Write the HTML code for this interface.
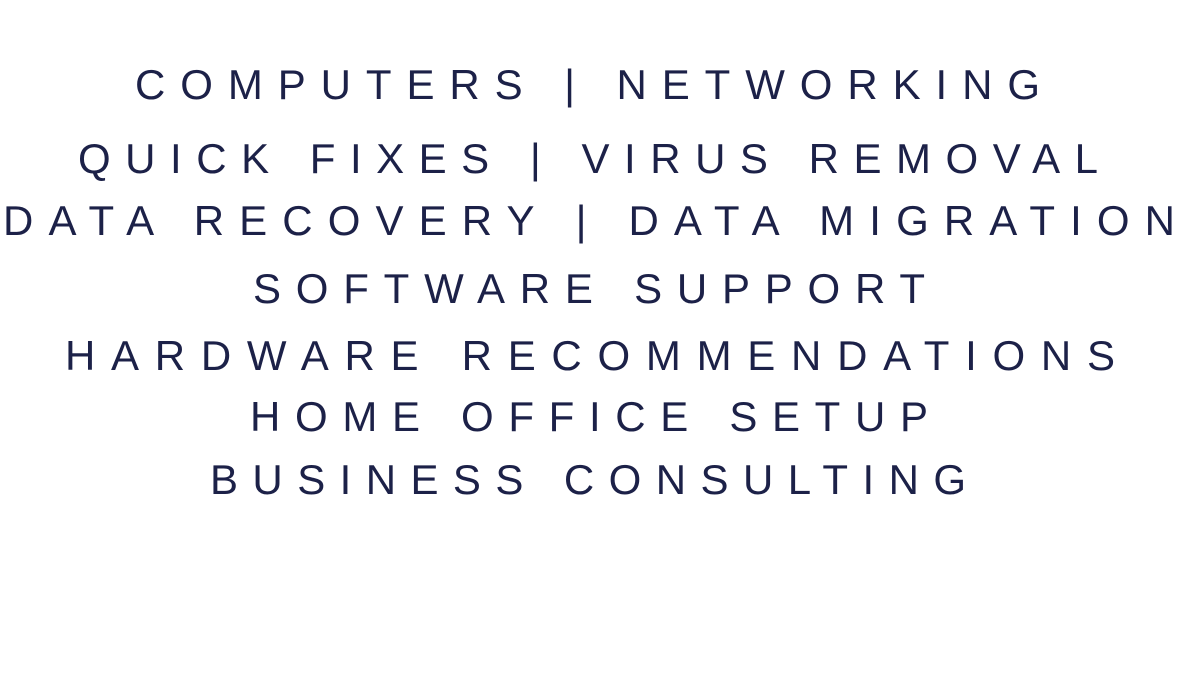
<!DOCTYPE html>
<html><head><meta charset="utf-8"><style>
html,body{margin:0;padding:0;background:#fff;}
svg{display:block}
text{font-family:"Liberation Sans",sans-serif;font-size:42px;fill:#1c2148;}
</style></head><body>
<svg width="1200" height="675" viewBox="0 0 1200 675" xmlns="http://www.w3.org/2000/svg">
<rect width="1200" height="675" fill="#fff"/>
<text x="135" y="99" textLength="905" lengthAdjust="spacing">COMPUTERS | NETWORKING</text>
<text x="78" y="173" textLength="1020" lengthAdjust="spacing">QUICK FIXES | VIRUS REMOVAL</text>
<text x="3" y="235" textLength="1172" lengthAdjust="spacing">DATA RECOVERY | DATA MIGRATION</text>
<text x="253" y="303" textLength="672" lengthAdjust="spacing">SOFTWARE SUPPORT</text>
<text x="65" y="370" textLength="1050" lengthAdjust="spacing">HARDWARE RECOMMENDATIONS</text>
<text x="250" y="431" textLength="678" lengthAdjust="spacing">HOME OFFICE SETUP</text>
<text x="210" y="494" textLength="756" lengthAdjust="spacing">BUSINESS CONSULTING</text>
</svg>
</body></html>
